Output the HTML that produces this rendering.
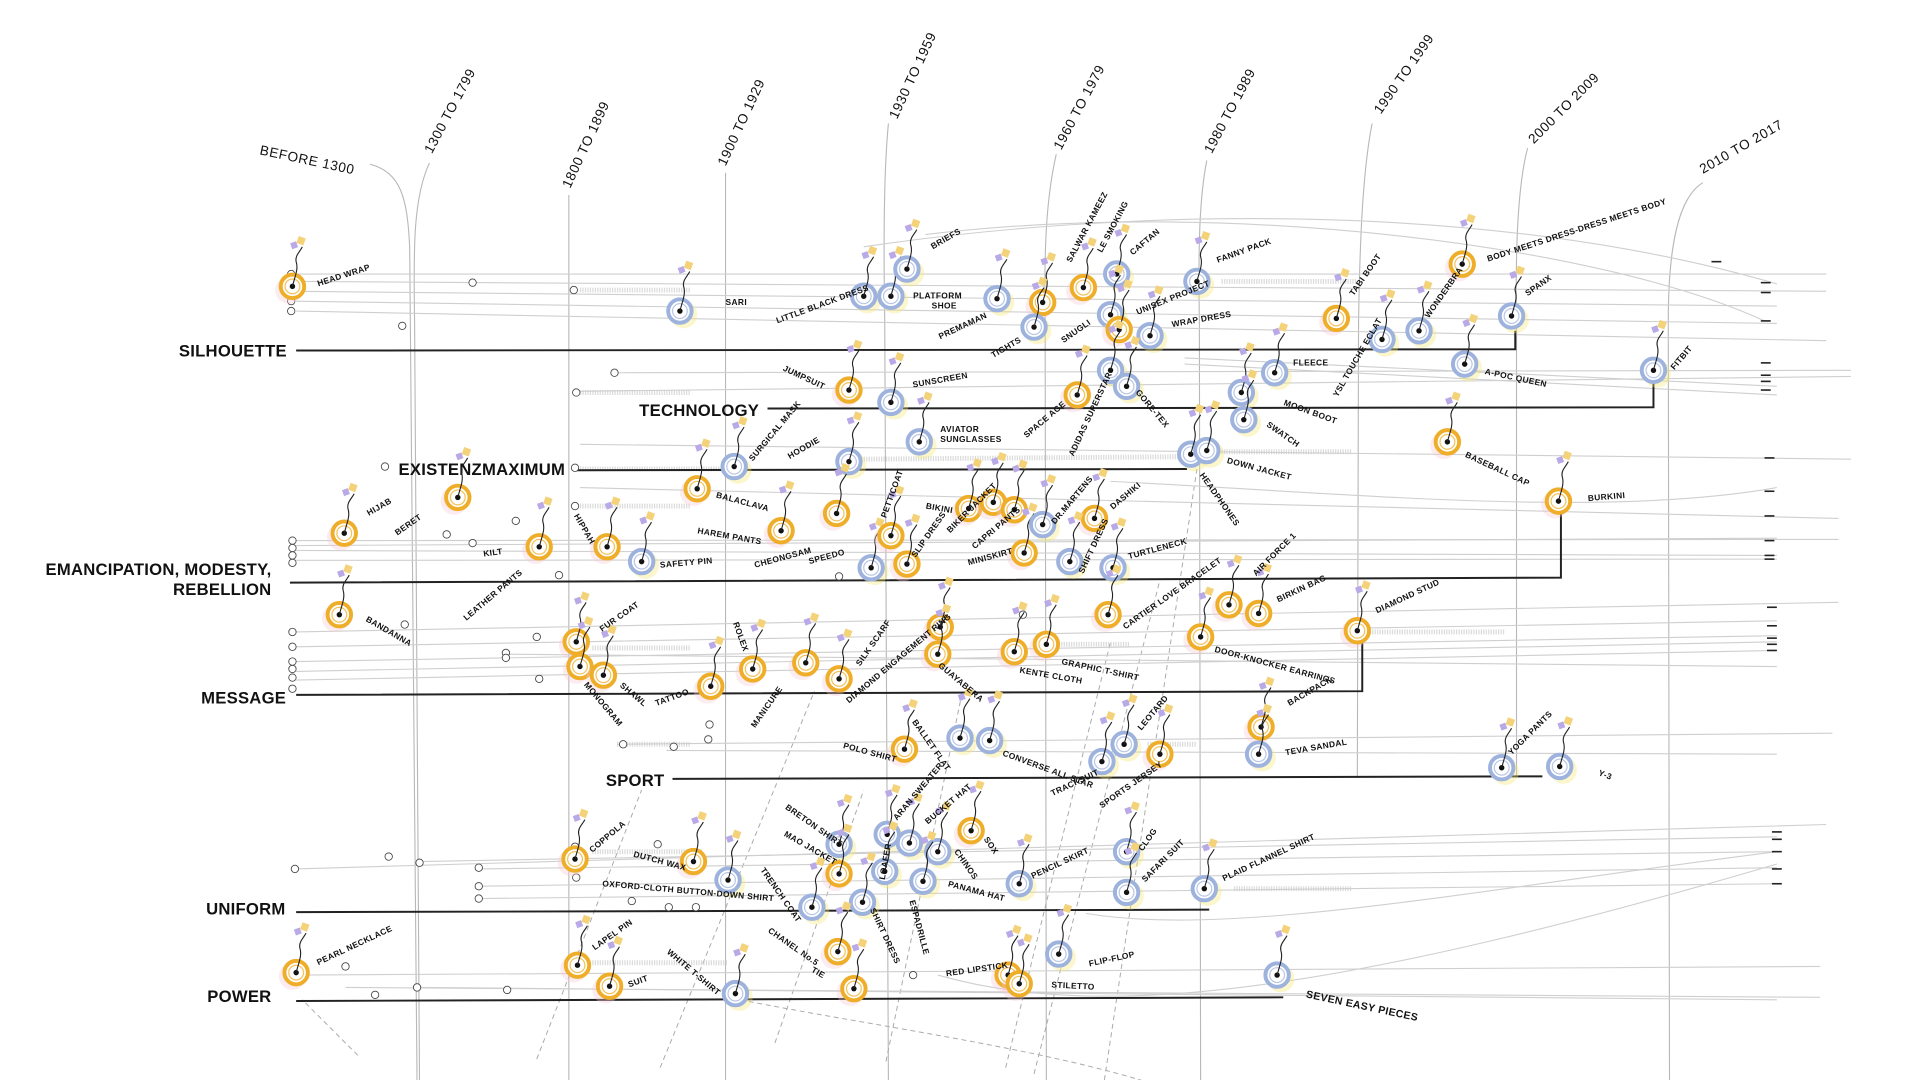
<!DOCTYPE html>
<html><head><meta charset="utf-8"><style>
html,body{margin:0;padding:0;background:#fff;}
svg{display:block}
text{font-family:"Liberation Sans Narrow","Liberation Sans",sans-serif;fill:#111;}
.c{font-size:13.5px;font-weight:bold;letter-spacing:0.2px}
.p{font-size:11px;letter-spacing:0.5px}
.n{font-size:6.8px;font-weight:bold;letter-spacing:0.3px}
.g{stroke:#cfcfcf;stroke-width:0.9;fill:none}
.v{stroke:#b8b8b8;stroke-width:0.9;fill:none}
.k{stroke:#222;stroke-width:1.6;fill:none}
.d{stroke:#aaa;stroke-width:0.8;fill:none;stroke-dasharray:4 3}
.oc{fill:#fff;stroke:#444;stroke-width:0.7}
.sh{stroke:#ccc;stroke-width:4;stroke-dasharray:1 1;opacity:.7}
</style></head><body>
<svg width="1920" height="1080" viewBox="0 0 1556 875" preserveAspectRatio="none" xmlns="http://www.w3.org/2000/svg">
<defs>
<g id="st"><path d="M0 0 C2 -8 5 -14 3 -20 C2 -25 6 -28 8 -32" stroke="#222" stroke-width="0.9" fill="none"/><rect x="4" y="-40" width="6" height="6" fill="#f3d27a" transform="rotate(20 7 -37)"/><rect x="-1" y="-36" width="5" height="5" fill="#b9a9e6" transform="rotate(-20 2 -33)"/></g>
<g id="o"><circle r="11" fill="#f6c6d0" opacity=".35" transform="translate(-3,3)"/><circle r="9.5" fill="#fff" stroke="#efae2a" stroke-width="3.2"/><circle r="6" fill="none" stroke="#f3c25a" stroke-width="1"/><circle r="2.2" fill="#111"/><use href="#st"/></g>
<g id="b"><circle r="11" fill="#f4e46a" opacity=".35" transform="translate(3,3)"/><circle r="9.5" fill="#fff" stroke="#9db2dd" stroke-width="3.2"/><circle r="6" fill="none" stroke="#b9c7e6" stroke-width="1"/><circle r="2.2" fill="#111"/><use href="#st"/></g>
</defs>

<g class="v">
<path d="M300 133 C325 140 330 160 332 200 L338 880"/>
<path d="M348 132 C335 160 335 200 336 260 L340 880"/>
<path d="M461 158 L461 880"/>
<path d="M588 140 L588 880"/>
<path d="M720 100 C716 140 716 200 717 260 L720 880"/>
<path d="M856 125 C848 160 846 200 847 260 L848 880"/>
<path d="M978 130 C972 160 971 200 972 260 L973 880"/>
<path d="M1112 100 C1104 140 1102 200 1101 260 L1100 630"/>
<path d="M1238 120 C1230 150 1228 200 1229 260 L1229 630"/>
<path d="M1380 148 C1360 160 1352 200 1352 260 L1353 880"/>
</g>

<g class="d">
<path d="M290 855 L245 810"/><path d="M435 858 L520 640"/><path d="M535 865 L660 560"/><path d="M628 845 L700 640"/>
<path d="M718 860 L780 560"/><path d="M815 865 L900 520"/><path d="M838 870 L940 470"/><path d="M895 875 L970 380"/>
<path d="M600 810 C700 830 850 850 940 880"/>
</g>

<g class="g">
<path d="M240 222 L1480 222"/><path d="M240 228 L1480 236"/><path d="M240 236 L1440 248"/><path d="M240 244 L1440 262"/><path d="M240 252 L1480 276"/>
<path d="M700 200 C900 170 1200 160 1440 230"/><path d="M750 190 C1000 160 1300 200 1430 260"/>
<path d="M500 302 L1500 300"/><path d="M470 317 L1500 305"/><path d="M960 295 L1440 320"/><path d="M960 290 L1440 313"/>
<path d="M470 360 L1500 372"/><path d="M470 395 L1490 420"/><path d="M240 438 L1490 437"/><path d="M240 446 L1440 450"/><path d="M240 454 L1440 453"/><path d="M240 442 L1440 436"/>
<path d="M900 390 C1100 400 1300 420 1440 395"/>
<path d="M240 512 L1490 488"/><path d="M240 524 L1440 503"/><path d="M240 536 L1440 515"/><path d="M240 544 L1440 520"/><path d="M240 551 L1440 527"/><path d="M410 530 L1440 540"/>
<path d="M500 603 L1485 594"/><path d="M540 608 L1440 611"/>
<path d="M240 704 L1480 668"/><path d="M340 698 L1440 678"/><path d="M390 704 L1440 690"/><path d="M390 718 L1440 703"/><path d="M390 728 L1440 716"/>
<path d="M240 790 L1475 783"/><path d="M280 800 L1475 808"/><path d="M340 800 L1440 810"/>
<path d="M760 790 C900 830 1100 800 1440 700"/><path d="M880 740 C1000 760 1200 720 1440 690"/>
</g>
<g class="sh">
<path d="M470 235 L560 235"/><path d="M470 318 L560 318"/><path d="M990 228 L1100 228"/><path d="M470 380 L600 380"/><path d="M700 372 L960 370"/><path d="M980 366 L1095 366"/>
<path d="M470 410 L560 410"/><path d="M480 525 L560 525"/><path d="M860 522 L915 522"/><path d="M1110 512 L1220 512"/><path d="M1000 720 L1095 720"/><path d="M480 690 L570 690"/><path d="M480 780 L590 780"/><path d="M500 603 L560 603"/><path d="M930 603 L970 603"/>
</g>

<g class="k">
<path d="M240 284 L1228 283 L1228 268"/>
<path d="M622 331 L1340 330 L1340 300"/>
<path d="M466 381 L962 380"/>
<path d="M235 472 L1265 468 L1265 406"/>
<path d="M240 563 L1104 560 L1104 512"/>
<path d="M545 631 L1250 629"/>
<path d="M240 739 L980 737"/>
<path d="M240 811 L1040 808"/>
</g>
<g stroke="#222" stroke-width="1.3">
<path d="M1387 212 h8"/><path d="M1427 229 h8"/><path d="M1427 237 h8"/><path d="M1427 260 h8"/><path d="M1427 294 h8"/><path d="M1427 304 h8"/><path d="M1427 309 h8"/><path d="M1427 316 h8"/>
<path d="M1430 371 h8"/><path d="M1430 398 h8"/><path d="M1430 418 h8"/><path d="M1430 438 h8"/><path d="M1430 450 h8"/><path d="M1430 453 h8"/>
<path d="M1432 492 h8"/><path d="M1432 507 h8"/><path d="M1432 517 h8"/><path d="M1432 522 h8"/><path d="M1432 527 h8"/>
<path d="M1436 674 h8"/><path d="M1436 680 h8"/><path d="M1436 690 h8"/><path d="M1436 704 h8"/><path d="M1436 716 h8"/>
</g>

<g class="oc">
<circle cx="236" cy="222" r="3"/><circle cx="236" cy="228" r="3"/><circle cx="236" cy="236" r="3"/><circle cx="236" cy="244" r="3"/><circle cx="236" cy="252" r="3"/>
<circle cx="383" cy="229" r="3"/><circle cx="326" cy="264" r="3"/><circle cx="465" cy="235" r="3"/><circle cx="498" cy="302" r="3"/><circle cx="467" cy="318" r="3"/>
<circle cx="312" cy="378" r="3"/><circle cx="466" cy="379" r="3"/><circle cx="466" cy="410" r="3"/><circle cx="418" cy="422" r="3"/><circle cx="362" cy="433" r="3"/><circle cx="383" cy="440" r="3"/><circle cx="453" cy="466" r="3"/>
<circle cx="237" cy="438" r="3"/><circle cx="237" cy="444" r="3"/><circle cx="237" cy="450" r="3"/><circle cx="237" cy="456" r="3"/>
<circle cx="237" cy="512" r="3"/><circle cx="237" cy="524" r="3"/><circle cx="237" cy="536" r="3"/><circle cx="237" cy="542" r="3"/><circle cx="237" cy="549" r="3"/><circle cx="237" cy="558" r="3"/>
<circle cx="328" cy="506" r="3"/><circle cx="435" cy="516" r="3"/><circle cx="410" cy="529" r="3"/><circle cx="410" cy="533" r="3"/><circle cx="437" cy="550" r="3"/><circle cx="829" cy="498" r="3"/>
<circle cx="575" cy="587" r="3"/><circle cx="574" cy="599" r="3"/><circle cx="546" cy="605" r="3"/><circle cx="505" cy="603" r="3"/>
<circle cx="315" cy="694" r="3"/><circle cx="340" cy="699" r="3"/><circle cx="239" cy="704" r="3"/><circle cx="388" cy="703" r="3"/><circle cx="388" cy="718" r="3"/><circle cx="388" cy="728" r="3"/>
<circle cx="466" cy="686" r="3"/><circle cx="467" cy="711" r="3"/><circle cx="533" cy="684" r="3"/><circle cx="512" cy="730" r="3"/><circle cx="542" cy="735" r="3"/><circle cx="564" cy="735" r="3"/>
<circle cx="280" cy="783" r="3"/><circle cx="338" cy="800" r="3"/><circle cx="304" cy="806" r="3"/><circle cx="411" cy="802" r="3"/><circle cx="740" cy="790" r="3"/><circle cx="680" cy="467" r="3"/>
</g>

<text class="c" x="145" y="289">SILHOUETTE</text>
<text class="c" x="518" y="337">TECHNOLOGY</text>
<text class="c" x="323" y="385">EXISTENZMAXIMUM</text>
<text class="c" x="220" y="466" text-anchor="end">EMANCIPATION, MODESTY,</text>
<text class="c" x="220" y="482" text-anchor="end">REBELLION</text>
<text class="c" x="163" y="570">MESSAGE</text>
<text class="c" x="491" y="637">SPORT</text>
<text class="c" x="167" y="741">UNIFORM</text>
<text class="c" x="168" y="812">POWER</text>

<text class="p" x="210" y="125" transform="rotate(12 210 125)">BEFORE 1300</text>
<text class="p" x="350" y="125" transform="rotate(-62 350 125)">1300 TO 1799</text>
<text class="p" x="462" y="153" transform="rotate(-65 462 153)">1800 TO 1899</text>
<text class="p" x="588" y="135" transform="rotate(-65 588 135)">1900 TO 1929</text>
<text class="p" x="727" y="97" transform="rotate(-65 727 97)">1930 TO 1959</text>
<text class="p" x="860" y="122" transform="rotate(-62 860 122)">1960 TO 1979</text>
<text class="p" x="982" y="125" transform="rotate(-62 982 125)">1980 TO 1989</text>
<text class="p" x="1119" y="93" transform="rotate(-55 1119 93)">1990 TO 1999</text>
<text class="p" x="1243" y="117" transform="rotate(-45 1243 117)">2000 TO 2009</text>
<text class="p" x="1380" y="141" transform="rotate(-30 1380 141)">2010 TO 2017</text>

<g>
<use href="#o" x="237" y="232"/><use href="#b" x="551" y="252"/><use href="#b" x="700" y="240"/><use href="#b" x="722" y="240"/><use href="#b" x="735" y="218"/>
<use href="#b" x="808" y="242"/><use href="#o" x="845" y="245"/><use href="#b" x="838" y="265"/><use href="#o" x="878" y="233"/><use href="#b" x="905" y="222"/>
<use href="#b" x="900" y="255"/><use href="#o" x="907" y="267"/><use href="#b" x="932" y="272"/><use href="#b" x="970" y="228"/><use href="#o" x="1083" y="258"/>
<use href="#b" x="1120" y="275"/><use href="#b" x="1150" y="268"/><use href="#o" x="1185" y="214"/><use href="#b" x="1225" y="256"/><use href="#b" x="1187" y="295"/><use href="#b" x="1340" y="300"/>
<use href="#o" x="688" y="316"/><use href="#b" x="722" y="326"/><use href="#o" x="873" y="320"/><use href="#b" x="900" y="300"/><use href="#b" x="913" y="313"/>
<use href="#b" x="1006" y="318"/><use href="#b" x="1033" y="302"/><use href="#b" x="1008" y="340"/><use href="#b" x="745" y="358"/><use href="#b" x="595" y="378"/><use href="#b" x="688" y="374"/>
<use href="#o" x="565" y="396"/><use href="#b" x="965" y="368"/><use href="#b" x="978" y="365"/><use href="#o" x="1173" y="358"/><use href="#o" x="1263" y="406"/>
<use href="#o" x="371" y="403"/><use href="#o" x="279" y="432"/><use href="#o" x="437" y="443"/><use href="#o" x="492" y="443"/><use href="#b" x="520" y="455"/>
<use href="#o" x="633" y="430"/><use href="#o" x="678" y="416"/><use href="#b" x="706" y="460"/><use href="#o" x="722" y="434"/><use href="#o" x="735" y="457"/>
<use href="#o" x="785" y="412"/><use href="#o" x="805" y="407"/><use href="#o" x="822" y="413"/><use href="#o" x="830" y="448"/><use href="#b" x="845" y="425"/><use href="#o" x="887" y="420"/>
<use href="#b" x="867" y="455"/><use href="#b" x="902" y="460"/><use href="#o" x="275" y="498"/><use href="#o" x="898" y="498"/><use href="#o" x="996" y="490"/><use href="#o" x="1020" y="497"/>
<use href="#o" x="973" y="516"/><use href="#o" x="1100" y="511"/><use href="#o" x="467" y="520"/><use href="#o" x="470" y="540"/><use href="#o" x="489" y="547"/>
<use href="#o" x="576" y="556"/><use href="#o" x="610" y="542"/><use href="#o" x="653" y="537"/><use href="#o" x="680" y="550"/><use href="#o" x="762" y="508"/><use href="#o" x="760" y="530"/>
<use href="#o" x="822" y="528"/><use href="#o" x="848" y="522"/><use href="#o" x="1022" y="589"/><use href="#b" x="1020" y="611"/>
<use href="#o" x="733" y="607"/><use href="#b" x="778" y="598"/><use href="#b" x="802" y="600"/><use href="#b" x="893" y="617"/><use href="#b" x="911" y="603"/><use href="#o" x="940" y="611"/>
<use href="#b" x="1217" y="622"/><use href="#b" x="1264" y="621"/>
<use href="#o" x="466" y="696"/><use href="#o" x="562" y="698"/><use href="#b" x="590" y="713"/><use href="#b" x="680" y="684"/><use href="#o" x="680" y="708"/><use href="#b" x="658" y="735"/>
<use href="#b" x="719" y="676"/><use href="#b" x="737" y="683"/><use href="#b" x="760" y="690"/><use href="#o" x="787" y="673"/><use href="#b" x="717" y="706"/><use href="#b" x="699" y="731"/><use href="#b" x="748" y="714"/>
<use href="#b" x="826" y="716"/><use href="#b" x="913" y="690"/><use href="#b" x="913" y="723"/><use href="#b" x="976" y="720"/>
<use href="#o" x="240" y="788"/><use href="#o" x="468" y="782"/><use href="#o" x="494" y="799"/><use href="#b" x="596" y="805"/><use href="#o" x="679" y="771"/><use href="#o" x="692" y="801"/>
<use href="#o" x="817" y="790"/><use href="#o" x="826" y="797"/><use href="#b" x="858" y="773"/><use href="#b" x="1035" y="790"/>
</g>

<g class="n">
<text x="258" y="232" transform="rotate(-18 258 232)">HEAD WRAP</text>
<text x="588" y="247">SARI</text>
<text x="630" y="262" transform="rotate(-20 630 262)">LITTLE BLACK DRESS</text>
<text x="740" y="242">PLATFORM</text><text x="755" y="250">SHOE</text>
<text x="756" y="202" transform="rotate(-30 756 202)">BRIEFS</text>
<text x="762" y="275" transform="rotate(-25 762 275)">PREMAMAN</text>
<text x="805" y="290" transform="rotate(-30 805 290)">TIGHTS</text>
<text x="868" y="213" transform="rotate(-62 868 213)">SALWAR KAMEEZ</text>
<text x="893" y="205" transform="rotate(-62 893 205)">LE SMOKING</text>
<text x="918" y="207" transform="rotate(-40 918 207)">CAFTAN</text>
<text x="862" y="278" transform="rotate(-35 862 278)">SNUGLI</text>
<text x="922" y="255" transform="rotate(-22 922 255)">UNISEX PROJECT</text>
<text x="950" y="265" transform="rotate(-10 950 265)">WRAP DRESS</text>
<text x="987" y="213" transform="rotate(-20 987 213)">FANNY PACK</text>
<text x="1097" y="240" transform="rotate(-55 1097 240)">TABI BOOT</text>
<text x="1084" y="322" transform="rotate(-60 1084 322)">YSL TOUCHE ECLAT</text>
<text x="1158" y="258" transform="rotate(-55 1158 258)">WONDERBRA</text>
<text x="1206" y="212" transform="rotate(-18 1206 212)">BODY MEETS DRESS-DRESS MEETS BODY</text>
<text x="1238" y="240" transform="rotate(-35 1238 240)">SPANX</text>
<text x="1203" y="303" transform="rotate(12 1203 303)">A-POC QUEEN</text>
<text x="1357" y="300" transform="rotate(-50 1357 300)">FITBIT</text>
<text x="634" y="300" transform="rotate(25 634 300)">JUMPSUIT</text>
<text x="740" y="314" transform="rotate(-10 740 314)">SUNSCREEN</text>
<text x="832" y="355" transform="rotate(-40 832 355)">SPACE AGE</text>
<text x="870" y="370" transform="rotate(-65 870 370)">ADIDAS SUPERSTAR</text>
<text x="920" y="318" transform="rotate(50 920 318)">GORE-TEX</text>
<text x="1048" y="296">FLEECE</text>
<text x="1040" y="328" transform="rotate(20 1040 328)">MOON BOOT</text>
<text x="1026" y="345" transform="rotate(35 1026 345)">SWATCH</text>
<text x="762" y="350">AVIATOR</text><text x="762" y="358">SUNGLASSES</text>
<text x="610" y="374" transform="rotate(-50 610 374)">SURGICAL MASK</text>
<text x="640" y="372" transform="rotate(-30 640 372)">HOODIE</text>
<text x="580" y="403" transform="rotate(15 580 403)">BALACLAVA</text>
<text x="994" y="375" transform="rotate(15 994 375)">DOWN JACKET</text>
<text x="972" y="385" transform="rotate(55 972 385)">HEADPHONES</text>
<text x="1187" y="370" transform="rotate(25 1187 370)">BASEBALL CAP</text>
<text x="1287" y="406" transform="rotate(-5 1287 406)">BURKINI</text>
<text x="299" y="418" transform="rotate(-30 299 418)">HIJAB</text>
<text x="322" y="434" transform="rotate(-35 322 434)">BERET</text>
<text x="392" y="451" transform="rotate(-8 392 451)">KILT</text>
<text x="378" y="503" transform="rotate(-40 378 503)">LEATHER PANTS</text>
<text x="465" y="418" transform="rotate(60 465 418)">HIPPAH</text>
<text x="535" y="460" transform="rotate(-5 535 460)">SAFETY PIN</text>
<text x="565" y="432" transform="rotate(10 565 432)">HAREM PANTS</text>
<text x="612" y="460" transform="rotate(-15 612 460)">CHEONGSAM</text>
<text x="656" y="457" transform="rotate(-15 656 457)">SPEEDO</text>
<text x="718" y="420" transform="rotate(-70 718 420)">PETTICOAT</text>
<text x="742" y="452" transform="rotate(-55 742 452)">SLIP DRESS</text>
<text x="750" y="412" transform="rotate(10 750 412)">BIKINI</text>
<text x="770" y="432" transform="rotate(-45 770 432)">BIKER JACKET</text>
<text x="790" y="445" transform="rotate(-40 790 445)">CAPRI PANTS</text>
<text x="785" y="458" transform="rotate(-15 785 458)">MINISKIRT</text>
<text x="855" y="425" transform="rotate(-50 855 425)">DR.MARTENS</text>
<text x="902" y="413" transform="rotate(-40 902 413)">DASHIKI</text>
<text x="878" y="465" transform="rotate(-65 878 465)">SHIFT DRESS</text>
<text x="915" y="453" transform="rotate(-15 915 453)">TURTLENECK</text>
<text x="296" y="503" transform="rotate(30 296 503)">BANDANNA</text>
<text x="912" y="510" transform="rotate(-35 912 510)">CARTIER LOVE BRACELET</text>
<text x="1018" y="467" transform="rotate(-45 1018 467)">AIR FORCE 1</text>
<text x="1036" y="488" transform="rotate(-25 1036 488)">BIRKIN BAG</text>
<text x="984" y="528" transform="rotate(15 984 528)">DOOR-KNOCKER EARRINGS</text>
<text x="1116" y="497" transform="rotate(-25 1116 497)">DIAMOND STUD</text>
<text x="488" y="512" transform="rotate(-35 488 512)">FUR COAT</text>
<text x="473" y="555" transform="rotate(50 473 555)">MONOGRAM</text>
<text x="502" y="556" transform="rotate(40 502 556)">SHAWL</text>
<text x="532" y="572" transform="rotate(-20 532 572)">TATTOO</text>
<text x="594" y="505" transform="rotate(70 594 505)">ROLEX</text>
<text x="612" y="590" transform="rotate(-55 612 590)">MANICURE</text>
<text x="688" y="570" transform="rotate(-40 688 570)">DIAMOND ENGAGEMENT RING</text>
<text x="697" y="540" transform="rotate(-55 697 540)">SILK SCARF</text>
<text x="760" y="540" transform="rotate(40 760 540)">GUAYABERA</text>
<text x="826" y="545" transform="rotate(10 826 545)">KENTE CLOTH</text>
<text x="860" y="538" transform="rotate(12 860 538)">GRAPHIC T-SHIRT</text>
<text x="1045" y="572" transform="rotate(-30 1045 572)">BACKPACK</text>
<text x="1042" y="612" transform="rotate(-10 1042 612)">TEVA SANDAL</text>
<text x="683" y="606" transform="rotate(15 683 606)">POLO SHIRT</text>
<text x="739" y="585" transform="rotate(55 739 585)">BALLET FLAT</text>
<text x="812" y="612" transform="rotate(20 812 612)">CONVERSE ALL STAR</text>
<text x="853" y="645" transform="rotate(-25 853 645)">TRACKSUIT</text>
<text x="925" y="592" transform="rotate(-50 925 592)">LEOTARD</text>
<text x="893" y="655" transform="rotate(-35 893 655)">SPORTS JERSEY</text>
<text x="1225" y="612" transform="rotate(-45 1225 612)">YOGA PANTS</text>
<text x="1295" y="628" transform="rotate(20 1295 628)">Y-3</text>
<text x="480" y="691" transform="rotate(-40 480 691)">COPPOLA</text>
<text x="513" y="694" transform="rotate(15 513 694)">DUTCH WAX</text>
<text x="488" y="718" transform="rotate(5 488 718)">OXFORD-CLOTH BUTTON-DOWN SHIRT</text>
<text x="636" y="655" transform="rotate(35 636 655)">BRETON SHIRT</text>
<text x="635" y="677" transform="rotate(30 635 677)">MAO JACKET</text>
<text x="616" y="705" transform="rotate(55 616 705)">TRENCH COAT</text>
<text x="727" y="665" transform="rotate(-50 727 665)">ARAN SWEATER</text>
<text x="752" y="668" transform="rotate(-40 752 668)">BUCKET HAT</text>
<text x="797" y="680" transform="rotate(55 797 680)">SOX</text>
<text x="773" y="690" transform="rotate(55 773 690)">CHINOS</text>
<text x="717" y="713" transform="rotate(-80 717 713)">LOAFER</text>
<text x="705" y="737" transform="rotate(65 705 737)">SHIRT DRESS</text>
<text x="737" y="730" transform="rotate(75 737 730)">ESPADRILLE</text>
<text x="768" y="718" transform="rotate(15 768 718)">PANAMA HAT</text>
<text x="837" y="712" transform="rotate(-25 837 712)">PENCIL SKIRT</text>
<text x="926" y="690" transform="rotate(-55 926 690)">CLOG</text>
<text x="928" y="715" transform="rotate(-45 928 715)">SAFARI SUIT</text>
<text x="992" y="714" transform="rotate(-25 992 714)">PLAID FLANNEL SHIRT</text>
<text x="258" y="782" transform="rotate(-25 258 782)">PEARL NECKLACE</text>
<text x="482" y="770" transform="rotate(-35 482 770)">LAPEL PIN</text>
<text x="510" y="800" transform="rotate(-20 510 800)">SUIT</text>
<text x="540" y="772" transform="rotate(40 540 772)">WHITE T-SHIRT</text>
<text x="622" y="755" transform="rotate(35 622 755)">CHANEL No.5</text>
<text x="657" y="787" transform="rotate(30 657 787)">TIE</text>
<text x="767" y="791" transform="rotate(-8 767 791)">RED LIPSTICK</text>
<text x="852" y="800" transform="rotate(3 852 800)">STILETTO</text>
<text x="883" y="783" transform="rotate(-12 883 783)">FLIP-FLOP</text>
<text x="1058" y="808" transform="rotate(12 1058 808)" style="font-size:8.5px">SEVEN EASY PIECES</text>
</g>
</svg>
</body></html>
